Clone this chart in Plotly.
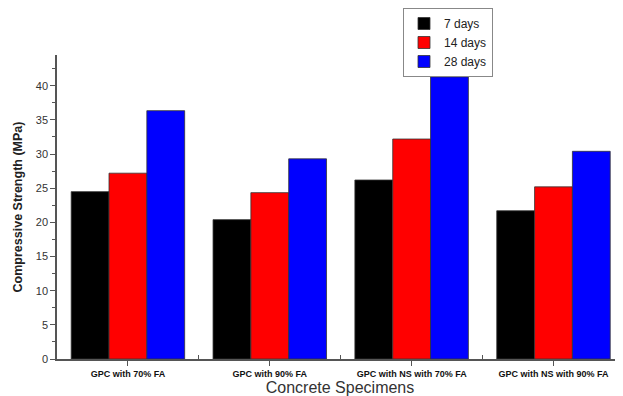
import plotly.graph_objects as go

categories = ["GPC with 70% FA", "GPC with 90% FA", "GPC with NS with 70% FA", "GPC with NS with 90% FA"]
days7 = [24.5, 20.4, 26.2, 21.7]
days14 = [27.2, 24.35, 32.2, 25.2]
days28 = [36.35, 29.3, 41.3, 30.4]
series_names = ["7 days", "14 days", "28 days"]
colors = ["#000000", "#ff0000", "#0000ff"]

xpos = list(range(len(categories)))

fig = go.Figure()
for name, vals, col in zip(series_names, [days7, days14, days28], colors):
    fig.add_trace(go.Bar(x=xpos, y=vals, name=name, marker=dict(color=col, line=dict(color="#333333", width=0.8))))

# page has an 8px body margin; figure sized to fit the 623x396 window
W, H = 615, 388
fig.update_layout(
    width=W, height=H,
    margin=dict(l=49, r=0, t=47, b=37),
    paper_bgcolor="white", plot_bgcolor="white",
    barmode="group", bargap=0.2, bargroupgap=0,
    font=dict(family="Arial, Liberation Sans, sans-serif", color="#222222"),
    showlegend=True,
    legend=dict(x=(395-49)/566, y=1 + 47/304, xref="paper", yref="paper", xanchor="left", yanchor="top",
                bordercolor="#888888", borderwidth=1, bgcolor="white",
                font=dict(size=12, color="#222222"), itemwidth=30, tracegroupgap=0),
)

fig.update_xaxes(
    range=[-0.5, 3.49], tickmode="array", tickvals=xpos, ticktext=["<b>" + c + "</b>" for c in categories],
    tickfont=dict(size=9, color="#111111"), automargin=False,
    showline=True, linecolor="#555555", linewidth=1.5, ticks="outside", ticklen=5, tickcolor="#555555",
    minor=dict(tickvals=[0.5, 1.5, 2.5], ticks="inside", ticklen=4, tickcolor="#555555"),
    showgrid=False, zeroline=False,
    title=dict(text="Concrete Specimens", font=dict(size=16, color="#333333"), standoff=3),
)
fig.update_yaxes(
    range=[0, 44.5], tickmode="array", tickvals=[0, 5, 10, 15, 20, 25, 30, 35, 40],
    tickfont=dict(size=11, color="#333333"), automargin=False,
    showline=True, linecolor="#555555", linewidth=1.5, ticks="outside", ticklen=5, tickcolor="#555555",
    minor=dict(dtick=2.5, ticks="outside", ticklen=3, tickcolor="#555555"),
    showgrid=False, zeroline=False,
    title=dict(text="<b>Compressive Strength (MPa)</b>", font=dict(size=12.5, color="#222222"), standoff=10),
)

fig.write_html("out.html")
